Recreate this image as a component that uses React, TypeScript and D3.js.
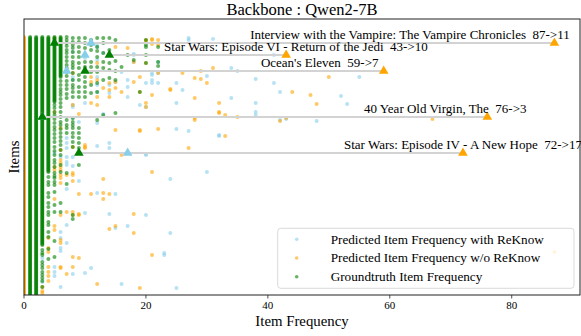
import * as d3 from 'd3'

const width = 581
const height = 336
const plot = { left: 24, right: 580, top: 19, bottom: 295 }

const xTicks = [0, 20, 40, 60, 80]
const xMax = 91.2
// rows are item positions, top row 0
const rowDomain: [number, number] = [-18, 258]

// solid runs of groundtruth markers: [frequency, first row, last row]
const gtRuns: [number, number, number][] = [
  [1, 0, 258], [2, 0, 258], [3, 0, 208], [4, 0, 135], [5, 0, 65], [6, 0, 40],
]

// single groundtruth markers: [frequency, row]
const gtPoints: [number, number][] = [
  [3, 213], [3, 216], [3, 218], [3, 225], [3, 228], [3, 231], [3, 235], [3, 238], [3, 241], [3, 244], [3, 250],
  [4, 140], [4, 145], [4, 148], [4, 156], [4, 160], [4, 166], [4, 170], [4, 175], [4, 178], [4, 185], [4, 188],
  [4, 195], [4, 200], [4, 212], [4, 222],
  [5, 68], [5, 71], [5, 75], [5, 78], [5, 82], [5, 86], [5, 90], [5, 93], [5, 97], [5, 101], [5, 105], [5, 110],
  [5, 114], [5, 118], [5, 123], [5, 126], [5, 130], [5, 136], [5, 139], [5, 141], [5, 145], [5, 148], [5, 155],
  [5, 168], [5, 175], [5, 204], [5, 220],
  [6, 44], [6, 48], [6, 52], [6, 55], [6, 58], [6, 62], [6, 66], [6, 70], [6, 75], [6, 80], [6, 85], [6, 88],
  [6, 92], [6, 96], [6, 100], [6, 104], [6, 108], [6, 113], [6, 118], [6, 128], [6, 135], [6, 166], [6, 175],
  [7, 0], [7, 3], [7, 6], [7, 9], [7, 13], [7, 16], [7, 20], [7, 24], [7, 28], [7, 31], [7, 35], [7, 39], [7, 44],
  [7, 48], [7, 52], [7, 57], [7, 61], [7, 83], [7, 88], [7, 91], [7, 96], [7, 136], [7, 147],
  [8, 1], [8, 5], [8, 8], [8, 11], [8, 15], [8, 20], [8, 25], [8, 28], [8, 31], [8, 36], [8, 43], [8, 48], [8, 51],
  [8, 55], [8, 60], [8, 81], [8, 85], [8, 88], [8, 91], [8, 96], [8, 100], [8, 105], [8, 110], [8, 178], [8, 182],
  [9, 1], [9, 5], [9, 10], [9, 15], [9, 20], [9, 26], [9, 31], [9, 38], [9, 43], [9, 50], [9, 55], [9, 60],
  [9, 91], [9, 96], [9, 101], [9, 106], [9, 111], [9, 128],
  [10, 1], [10, 6], [10, 11], [10, 25], [10, 30], [10, 40], [10, 45], [10, 50], [10, 55], [10, 60],
  [11, 3], [11, 8], [11, 13], [11, 25], [11, 30], [11, 35], [11, 48], [11, 56],
  [12, 1], [12, 10], [12, 14], [12, 20], [12, 30], [12, 35], [12, 46], [12, 55], [12, 83],
  [13, 1], [13, 6], [13, 16], [13, 25], [13, 31], [13, 43], [13, 78],
  [14, 1], [14, 13], [14, 26], [14, 33], [14, 41],
  [15, 3], [15, 24], [15, 34], [15, 43], [15, 76],
  [16, 30], [17, 18], [18, 23], [19, 55], [20, 3], [20, 8], [20, 10], [20, 18], [20, 26], [22, 10], [22, 25], [22, 29],
]

// predicted frequency with ReKnow: [frequency, row]
const withPoints: [number, number][] = [
  [31, 2], [34, 31], [35, 34], [30, 39], [38, 42], [41, 46], [55, 40], [42, 55], [52, 59], [34, 61], [38, 66],
  [53, 67], [38, 78], [43, 82], [48, 84], [32, 99], [41, 18], [27, 3],
  [21, 36], [20, 46], [21, 46], [26, 53], [19, 68], [25, 66], [38, 75], [42, 83], [25, 92],
  [27, 94], [32, 98], [20, 118], [24, 142], [30, 135], [20, 178], [24, 196], [23, 216], [23, 218], [25, 251],
  [8, 129], [7, 128], [9, 144], [12, 156], [15, 157], [7, 152], [14, 177], [10, 176], [7, 188], [17, 189],
  [15, 191], [6, 195], [7, 206], [11, 231], [10, 236], [8, 237], [16, 247], [6, 250],
  [6, 201], [6, 211], [6, 214], [5, 230], [5, 235], [5, 239], [3, 245], [3, 221],
  [8, 15], [12, 10], [13, 16], [12, 48], [14, 48], [17, 50], [17, 43], [20, 117], [8, 81], [8, 70], [9, 85],
  [7, 120], [8, 120], [7, 101], [22, 25], [21, 38], [22, 46], [25, 46], [27, 1], [18, 18], [18, 25], [16, 35],
  [8, 68], [10, 66], [17, 60], [20, 70], [13, 77], [12, 86], [14, 106], [14, 111], [12, 109], [7, 106], [7, 111],
  [5, 116], [6, 120], [7, 125],
  [12, 8], [10, 21], [12, 23], [12, 40], [8, 40], [8, 43], [12, 55], [14, 56], [15, 45], [18, 17], [22, 36], [21, 43],
]

// solid runs of predicted frequency without ReKnow: [frequency, first row, last row]
const withoutRuns: [number, number, number][] = [[0, 0, 258]]

// predicted frequency without ReKnow: [frequency, row]
const withoutPoints: [number, number][] = [
  [31, 31], [30, 46], [50, 40], [44, 55], [47, 58], [32, 66], [48, 67], [32, 76], [33, 78], [35, 80], [42, 84],
  [67, 82], [33, 99], [29, 42],
  [20, 3], [21, 3], [22, 3], [21, 7], [22, 36], [26, 36], [29, 34], [24, 53], [21, 58], [20, 66], [20, 70],
  [28, 61], [32, 75], [43, 81], [28, 81], [22, 92],
  [19, 94], [27, 111], [28, 83], [21, 135], [21, 218], [19, 251],
  [13, 142], [8, 144], [9, 157], [11, 157], [13, 156], [14, 157], [13, 162], [18, 177], [7, 175], [9, 177],
  [15, 189], [14, 192], [18, 196], [6, 203], [8, 220], [9, 221], [8, 230], [6, 231], [7, 237], [12, 247],
  [6, 133], [8, 138], [7, 138],
  [5, 189], [5, 193], [4, 201], [6, 206], [4, 211], [4, 215], [4, 230], [6, 230], [4, 235], [4, 239], [4, 244],
  [3, 250], [3, 254], [3, 256],
  [87, 215],
  [20, 4], [21, 2], [17, 11], [18, 25], [20, 26], [19, 40], [18, 45], [15, 45], [24, 52], [28, 41], [14, 60],
  [13, 51], [11, 66], [8, 68], [15, 93], [10, 110], [19, 93], [6, 113],
  [11, 40], [11, 45], [12, 43], [14, 46], [14, 53], [15, 51], [16, 55], [19, 55], [5, 1], [15, 10], [22, 8],
  [12, 26], [8, 36],
  [12, 60], [12, 68], [9, 77], [6, 91], [10, 108], [10, 111], [8, 110], [16, 118], [5, 75],
  [6, 123], [6, 126], [6, 130], [5, 130], [5, 133], [6, 138], [6, 141], [6, 146], [8, 136], [5, 162], [8, 175],
  [8, 178], [9, 178], [6, 178],
]

const highlightTitles = [
  'Interview with the Vampire: The Vampire Chronicles',
  'Star Wars: Episode VI - Return of the Jedi',
  "Ocean's Eleven",
  '40 Year Old Virgin, The',
  'Star Wars: Episode IV - A New Hope',
]
const highlightRows = [6, 18, 34, 80, 116]
const highlightGt = [5, 14, 10, 3, 9]
const highlightWith = [11, 10, 7, 3, 17]
const highlightWithout = [87, 43, 59, 76, 72]
// label centres, in frequency units
const highlightLabelAt = [63.3, 44.6, 48.5, 69.1, 72.0]

const colors = { with: '#87ceeb', without: '#ffa500', gt: '#008000' }
const legendItems = [
  { label: 'Predicted Item Frequency with ReKnow', color: colors.with },
  { label: 'Predicted Item Frequency w/o ReKnow', color: colors.without },
  { label: 'Groundtruth Item Frequency', color: colors.gt },
]

function expandRuns(runs: [number, number, number][]) {
  const out: [number, number][] = []
  runs.forEach(([freq, from, to]) => {
    d3.range(from, to + 1).forEach((row) => out.push([freq, row]))
  })
  return out
}

const serif = '"Liberation Serif", "Times New Roman", serif'

export default function App() {
  const x = d3.scaleLinear().domain([0, xMax]).range([plot.left, plot.right])
  const y = d3.scaleLinear().domain(rowDomain).range([plot.top, plot.bottom])
  const triangle = d3.symbol(d3.symbolTriangle, 40)()

  const series = [
    { key: 'with', color: colors.with, points: withPoints },
    { key: 'without', color: colors.without, points: [...expandRuns(withoutRuns), ...withoutPoints] },
    { key: 'gt', color: colors.gt, points: [...expandRuns(gtRuns), ...gtPoints] },
  ]

  const legend = { x: 277.7, y: 228.3, w: 296.3, h: 60 }

  return (
    <svg
      width={width}
      height={height}
      viewBox={`0 0 ${width} ${height}`}
      style={{ position: 'absolute', left: 0, top: 0, background: 'white' }}
      fontFamily={serif}
    >
      <defs>
        <clipPath id="plot-clip">
          <rect x={plot.left} y={plot.top} width={plot.right - plot.left} height={plot.bottom - plot.top} />
        </clipPath>
      </defs>

      <text x={(plot.left + plot.right) / 2} y={15} textAnchor="middle" fontSize="16.5">
        Backbone : Qwen2-7B
      </text>

      <g clipPath="url(#plot-clip)">
        {series.map((s) => (
          <g key={s.key} fill={s.color} fillOpacity={0.6}>
            {s.points.map(([freq, row], i) => (
              <circle key={i} cx={x(freq)} cy={y(row)} r={2} />
            ))}
          </g>
        ))}

        {highlightTitles.map((title, i) => {
          const cy = y(highlightRows[i])
          return (
            <g key={title}>
              <line
                x1={x(highlightGt[i])}
                x2={x(highlightWithout[i])}
                y1={cy}
                y2={cy}
                stroke="#d3d3d3"
                strokeWidth="2"
              />
              <path d={triangle} transform={`translate(${x(highlightWithout[i])},${cy})`} fill={colors.without} />
              <path d={triangle} transform={`translate(${x(highlightWith[i])},${cy})`} fill={colors.with} />
              <path d={triangle} transform={`translate(${x(highlightGt[i])},${cy})`} fill={colors.gt} />
            </g>
          )
        })}
      </g>

      {highlightTitles.map((title, i) => (
        <text
          key={title}
          x={x(highlightLabelAt[i])}
          y={y(highlightRows[i]) - 4}
          textAnchor="middle"
          fontSize="13"
          style={{ whiteSpace: 'pre' }}
        >
          {`${title}  ${highlightWithout[i]}->${highlightWith[i]}`}
        </text>
      ))}

      <rect
        x={plot.left}
        y={plot.top}
        width={plot.right - plot.left}
        height={plot.bottom - plot.top}
        fill="none"
        stroke="#222"
        strokeWidth="1"
      />

      {xTicks.map((tick) => (
        <g key={tick} transform={`translate(${x(tick)},0)`}>
          <line y1={plot.bottom} y2={plot.bottom + 3.5} stroke="#222" strokeWidth="0.8" />
          <text y={309} textAnchor="middle" fontSize="11">
            {tick}
          </text>
        </g>
      ))}

      <text x={(plot.left + plot.right) / 2} y={326} textAnchor="middle" fontSize="14.8">
        Item Frequency
      </text>
      <text transform={`translate(18.5,${(plot.top + plot.bottom) / 2}) rotate(-90)`} textAnchor="middle" fontSize="14.8">
        Items
      </text>

      <g>
        <rect
          x={legend.x}
          y={legend.y}
          width={legend.w}
          height={legend.h}
          rx="3"
          fill="white"
          fillOpacity={0.8}
          stroke="#d0d0d0"
          strokeWidth="0.8"
        />
        {legendItems.map((item, i) => (
          <g key={item.label} transform={`translate(0,${legend.y + 11 + i * 18.7})`}>
            <circle cx={296.7} cy={0} r={1.8} fill={item.color} fillOpacity={0.6} />
            <text x={330.7} y={4.2} fontSize="13.2">
              {item.label}
            </text>
          </g>
        ))}
      </g>
    </svg>
  )
}
